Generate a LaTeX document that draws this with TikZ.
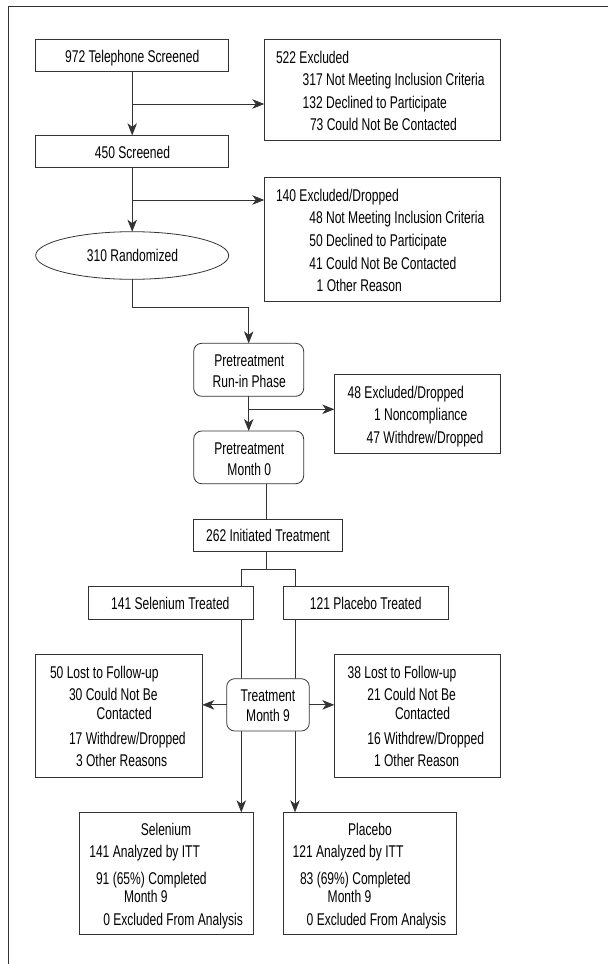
\documentclass[tikz,border=0pt]{standalone}
\usepackage{fontspec}
\setmainfont{Liberation Sans}[FakeStretch=0.71]
\usetikzlibrary{arrows.meta,shapes.geometric}
\definecolor{ln}{HTML}{333333}
\tikzset{
  box/.style={draw=ln, line width=0.8pt, inner sep=0, outer sep=0, rectangle},
  rbox/.style={box, rounded corners=8pt},
  ell/.style={draw=ln, line width=0.8pt, inner sep=0, outer sep=0, ellipse},
  conn/.style={draw=ln, line width=0.8pt},
  arr/.style={conn, -{Stealth[length=12pt,width=9.5pt,inset=3.5pt]}},
  txt/.style={inner sep=0, outer sep=0, anchor=base west},
  ctxt/.style={inner sep=0, outer sep=0, anchor=base},
}
\begin{document}
\begin{tikzpicture}[x=1pt,y=-1pt,font=\fontsize{17}{20}\selectfont]
\useasboundingbox (0,0) rectangle (608,964);
% outer frame (open right and bottom)
\draw[draw=ln, line width=1pt] (8.3,964) -- (8.3,6.7) -- (608,6.7);

% boxes
\node[box, minimum width=193pt, minimum height=32.7pt] (b972) at (132.2,55.35) {};
\node[box, minimum width=236.4pt, minimum height=101.3pt] (b522) at (382.5,89.65) {};
\node[box, minimum width=193pt, minimum height=32.4pt] (b450) at (132.2,151.5) {};
\node[box, minimum width=236.4pt, minimum height=124pt] (b140) at (382.5,239.7) {};
\node[ell, minimum width=193pt, minimum height=47.6pt] (rand) at (132.2,255.5) {};
\node[rbox, minimum width=110pt, minimum height=53pt] (runin) at (248.7,369.8) {};
\node[box, minimum width=166.4pt, minimum height=79pt] (b48) at (417.5,413.8) {};
\node[rbox, minimum width=110pt, minimum height=52.7pt] (m0) at (248.7,457.35) {};
\node[box, minimum width=149pt, minimum height=32.7pt] (init) at (268.2,535.35) {};
\node[box, minimum width=165pt, minimum height=32.3pt] (selT) at (170.5,602.85) {};
\node[box, minimum width=165.3pt, minimum height=32.3pt] (plaT) at (365.65,602.85) {};
\node[box, minimum width=166.6pt, minimum height=122.7pt] (lostL) at (119,715.65) {};
\node[box, minimum width=166.4pt, minimum height=122.7pt] (lostR) at (417.5,715.65) {};
\node[box, minimum width=173.7pt, minimum height=122pt] (selB) at (166.15,873.3) {};
\node[box, minimum width=173.7pt, minimum height=122pt] (plaB) at (369.85,873.3) {};

% texts
\node[ctxt] (t972) at (132.2,62.3) {972 Telephone Screened};
\node[txt] (t522a) at (276,63.3) {522 Excluded};
\node[txt] (t522b) at (302.7,85.7) {317 Not Meeting Inclusion Criteria};
\node[txt] (t522c) at (302.7,108.3) {132 Declined to Participate};
\node[txt] (t522d) at (310,130.7) {73 Could Not Be Contacted};
\node[ctxt] (t450) at (132.5,158.3) {450 Screened};
\node[txt] (t140a) at (276,201) {140 Excluded/Dropped};
\node[txt] (t140b) at (309.3,223.3) {48 Not Meeting Inclusion Criteria};
\node[txt] (t140c) at (309.3,246) {50 Declined to Participate};
\node[txt] (t140d) at (309.3,269.3) {41 Could Not Be Contacted};
\node[txt] (t140e) at (316.7,291) {1 Other Reason};
\node[ctxt] (trand) at (132.5,261) {310 Randomized};
\node[ctxt] (truna) at (249.3,366.7) {Pretreatment};
\node[ctxt] (trunb) at (249.3,387.3) {Run-in Phase};
\node[txt] (t48a) at (347.7,398.3) {48 Excluded/Dropped};
\node[txt] (t48b) at (374,420.7) {1 Noncompliance};
\node[txt] (t48c) at (366.7,443.3) {47 Withdrew/Dropped};
\node[ctxt] (tm0a) at (249.3,454) {Pretreatment};
\node[ctxt] (tm0b) at (249.3,475) {Month 0};
\node[ctxt] (tinit) at (268,541.7) {262 Initiated Treatment};
\node[ctxt] (tselT) at (170.3,609.3) {141 Selenium Treated};
\node[ctxt] (tplaT) at (365.7,609.3) {121 Placebo Treated};
\node[txt] (tLa) at (50,678.3) {50 Lost to Follow-up};
\node[txt] (tLb) at (69,700) {30 Could Not Be};
\node[txt] (tLc) at (96.7,719) {Contacted};
\node[txt] (tLd) at (69,744) {17 Withdrew/Dropped};
\node[txt] (tLe) at (76,766.7) {3 Other Reasons};
\node[txt] (tRa) at (347.7,678.3) {38 Lost to Follow-up};
\node[txt] (tRb) at (367.3,700) {21 Could Not Be};
\node[txt] (tRc) at (395,719) {Contacted};
\node[txt] (tRd) at (367.3,744) {16 Withdrew/Dropped};
\node[txt] (tRe) at (374,766.7) {1 Other Reason};
\node[ctxt] (tSa) at (166,835.7) {Selenium};
\node[txt] (tSb) at (89.3,857.7) {141 Analyzed by ITT};
\node[txt] (tSc) at (96,884) {91 (65\%) Completed};
\node[txt] (tSd) at (124,902.7) {Month 9};
\node[txt] (tSe) at (103.3,925) {0 Excluded From Analysis};
\node[ctxt] (tPa) at (370,835.7) {Placebo};
\node[txt] (tPb) at (292.7,857.7) {121 Analyzed by ITT};
\node[txt] (tPc) at (300,884) {83 (69\%) Completed};
\node[txt] (tPd) at (327.7,902.7) {Month 9};
\node[txt] (tPe) at (306.7,925) {0 Excluded From Analysis};

% connectors
\coordinate (j1) at (132.2,104);
\coordinate (j2) at (132.2,200);
\draw[arr] (b972.south) -- (b450.north);
\draw[arr] (j1) -- (j1 -| b522.west);
\draw[arr] (b450.south) -- (rand.north);
\draw[arr] (j2) -- (j2 -| b140.west);
\coordinate (j3) at (132.2,307.3);
\draw[arr] (rand.south) -- (j3) -| (runin.north);
\coordinate (j4) at (248.7,409.3);
\draw[arr] (runin.south) -- (m0.north);
\draw[arr] (j4) -- (j4 -| b48.west);
\coordinate (m0b) at (266,483.7);
\draw[conn] (m0b) -- (m0b |- init.north);
\coordinate (sp) at (266,569.3);
\coordinate (sL) at (241.3,569.3);
\coordinate (sR) at (295,569.3);
\draw[conn] (sp |- init.south) -- (sp);
\draw[conn] (sL) -- (sR);
\draw[conn] (sL) -- (sL |- selT.north);
\draw[conn] (sR) -- (sR |- plaT.north);
\draw[arr] (sL |- selT.south) -- (sL |- selB.north);
\draw[arr] (sR |- plaT.south) -- (sR |- plaB.north);
\node[rbox, fill=white, minimum width=82.6pt, minimum height=52.3pt] (m9) at (268,704.85) {};
\node[ctxt] (tm9a) at (268,701) {Treatment};
\node[ctxt] (tm9b) at (268,721.7) {Month 9};
\draw[arr] (m9.west) -- (m9.west -| lostL.east);
\draw[arr] (m9.east) -- (m9.east -| lostR.west);
\end{tikzpicture}
\end{document}
